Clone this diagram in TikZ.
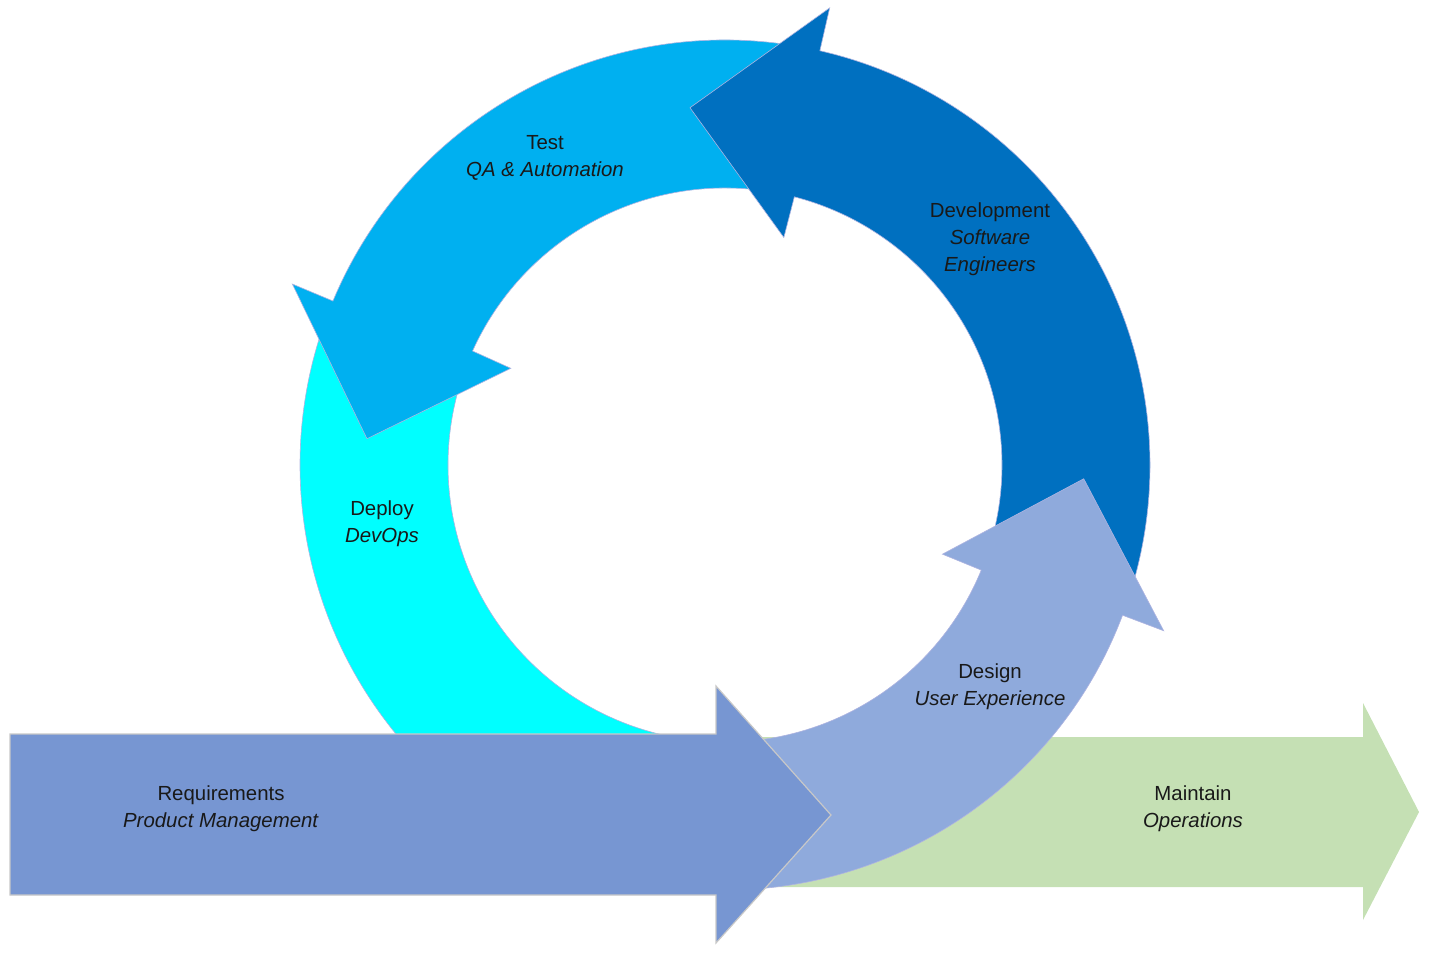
\documentclass[tikz,border=0pt]{standalone}
\usepackage{fontspec}
\setmainfont{Liberation Sans}
\definecolor{cDeploy}{RGB}{0,255,255}
\definecolor{cTest}{RGB}{0,176,240}
\definecolor{cDev}{RGB}{0,112,192}
\definecolor{cDesign}{RGB}{143,170,220}
\definecolor{cReq}{RGB}{119,150,210}
\definecolor{cMaint}{RGB}{197,224,180}
\definecolor{cEdge}{RGB}{175,180,225}
\definecolor{cReqEdge}{RGB}{200,200,200}
\newcommand\ringarrow[3]{%
  \pgfmathsetmacro\raO{#3+0.8}%
  \pgfmathsetmacro\raI{#3-0.8}%
  \pgfmathsetmacro\raT{#3+19.3}%
  \filldraw[ring, fill=#1] (#2:277) -- (#2:425)
    arc[start angle=#2, end angle=\raO, radius=425]
    -- (\raO:469) -- (\raT:359) -- (\raI:235) -- (\raI:277)
    arc[start angle=\raI, end angle=#2, radius=277] -- cycle;}
\begin{document}
\begin{tikzpicture}[x=1pt,y=1pt,
  ring/.style={draw=cEdge, line width=0.6pt, line join=miter},
  lbl/.style={align=center, font=\fontsize{20.4}{27}\selectfont, text=black!90, inner sep=0pt}]
\useasboundingbox (0,0) rectangle (1430,-956);
% Maintain (green) arrow
\fill[cMaint] (700,-737) -- (1363,-737) -- (1363,-703) -- (1419,-812)
  -- (1363,-920) -- (1363,-887) -- (700,-887) -- cycle;
\begin{scope}[shift={(725,-465)}]
  % Deploy block arc
  \filldraw[ring, fill=cDeploy] (160:277) -- (160:425)
    arc[start angle=160, end angle=260, radius=425] -- (260:277)
    arc[start angle=260, end angle=160, radius=277] -- cycle;
  % Test
  \ringarrow{cTest}{78}{156.5}
  % Development
  \ringarrow{cDev}{-18}{76.3}
  % Design
  \ringarrow{cDesign}{-100}{-21.5}
\end{scope}
% Requirements arrow
\filldraw[fill=cReq, draw=cReqEdge, line width=1.2pt] (10,-734) -- (716,-734) -- (716,-686)
  -- (831,-815) -- (716,-943) -- (716,-895) -- (10,-895) -- cycle;
% Labels
\node[lbl] (test) at (545,-157.5) {Test\\\textit{QA \& Automation}};
\node[lbl] (dev) at (990,-239) {Development\\\textit{Software}\\\textit{Engineers}};
\node[lbl] (deploy) at (382,-523.5) {Deploy\\\textit{DevOps}};
\node[lbl] (design) at (990,-686.5) {Design\\\textit{User Experience}};
\node[lbl] (req) at (221,-808.5) {Requirements\\\textit{Product Management}};
\node[lbl] (maint) at (1193,-808.5) {Maintain\\\textit{Operations}};
\end{tikzpicture}
\end{document}
